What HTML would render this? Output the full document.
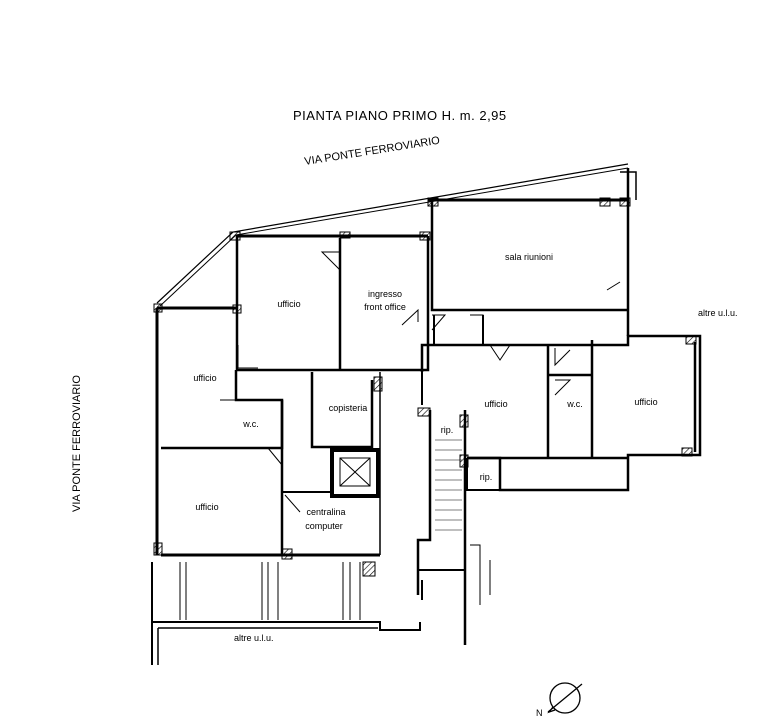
<!DOCTYPE html>
<html><head><meta charset="utf-8"><style>
html,body{margin:0;padding:0;background:#fff;}
svg{display:block;}
text{font-family:"Liberation Sans",sans-serif;fill:#000;}
</style></head><body>
<svg width="781" height="722" viewBox="0 0 781 722" xmlns="http://www.w3.org/2000/svg">
<defs>
<pattern id="h" width="4" height="4" patternUnits="userSpaceOnUse" patternTransform="rotate(45)"><line x1="0" y1="0" x2="0" y2="4" stroke="#000" stroke-width="1.2"/></pattern>
</defs>
<rect width="781" height="722" fill="#fff"/>
<text x="293" y="120" font-size="13" letter-spacing="0.5">PIANTA  PIANO  PRIMO  H. m. 2,95</text>
<text x="305" y="165" font-size="11" transform="rotate(-9 305 165)">VIA  PONTE  FERROVIARIO</text>
<text x="80" y="512" font-size="11" transform="rotate(-90 80 512)">VIA  PONTE  FERROVIARIO</text>
<text x="698" y="316" font-size="9">altre u.l.u.</text>
<text x="234" y="641" font-size="9">altre u.l.u.</text>

<g fill="none" stroke="#000">
<!-- outer diagonals -->
<path d="M157 303 L233 232 L628 164" stroke-width="1.2"/>
<path d="M160 306 L236 235 L628 168" stroke-width="1"/>
<path d="M628 168 L628 336" stroke-width="2.5"/>
<path d="M620 172 L636 172 L636 200" stroke-width="1.5"/>
<!-- sala riunioni -->
<path d="M428 200 L628 200" stroke-width="3"/>
<path d="M432 200 L432 310 L628 310" stroke-width="2.5"/>
<!-- top left rooms -->
<path d="M236 236 L428 236" stroke-width="3"/>
<path d="M237 236 L237 370 L428 370 L428 236" stroke-width="2.5"/>
<path d="M340 238 L340 370" stroke-width="2.5"/>
<!-- left ufficio -->
<path d="M157 308 L236 308" stroke-width="3"/>
<path d="M157 308 L157 555" stroke-width="3"/>
<path d="M161 448 L282 448 L282 400 L236 400 L236 370" stroke-width="2.5"/>
<path d="M282 400 L282 448 L282 555" stroke-width="2.5"/>
<!-- copisteria -->
<path d="M312 372 L312 447 L372 447 L372 380" stroke-width="2.5"/>
<path d="M380 372 L380 555" stroke-width="1.5"/>
<!-- lift -->
<rect x="332" y="450" width="46" height="46" stroke-width="4"/>
<rect x="340" y="458" width="30" height="28" stroke-width="1"/>
<path d="M340 458 L370 486 M370 458 L340 486" stroke-width="1"/>
<path d="M282 492 L332 492" stroke-width="2"/>
<path d="M161 555 L380 555" stroke-width="3"/>
<!-- bottom corridor -->
<path d="M152 562 L152 665 M152 622 L380 622 L380 630 L420 630 L420 622" stroke-width="2"/>
<path d="M158 628 L158 665 M158 628 L378 628" stroke-width="1.5"/>
<path d="M180 562 L180 620 M186 562 L186 620 M262 562 L262 620 M268 562 L268 620 M278 562 L278 620 M343 562 L343 620 M350 562 L350 620 M360 562 L360 620" stroke-width="1"/>
<!-- stairs -->
<path d="M430 410 L430 540 L418 540 L418 595 M465 410 L465 545 L465 645" stroke-width="2.5"/>
<path d="M418 570 L465 570 M422 580 L422 600" stroke-width="2"/>
<path d="M435 440 H462 M435 450 H462 M435 460 H462 M435 470 H462 M435 480 H462 M435 490 H462 M435 500 H462 M435 510 H462 M435 520 H462 M435 530 H462" stroke-width="0.6"/>
<path d="M470 545 L480 545 L480 605 M490 560 L490 595" stroke-width="1"/>
<!-- right block -->
<path d="M422 372 L422 345 L628 345 L628 336 L700 336 L700 455 L628 455 L628 490 L500 490 L500 458 L467 458" stroke-width="2.5"/>
<path d="M422 345 L432 345 M422 372 L422 405" stroke-width="2"/>
<path d="M434 315 L434 345 L483 345 L483 315" stroke-width="2"/>
<path d="M548 345 L548 458 M592 340 L592 458 M548 375 L592 375 M467 458 L628 458 M695 342 L695 452" stroke-width="2.5"/>
<path d="M500 458 L500 490 L467 490 L467 458" stroke-width="2"/>
<!-- door swings -->
<path d="M322 252 L340 252 L340 270 Z M238 345 L238 368 L258 368 M418 322 L418 310 L402 325 M607 290 L620 282 M432 315 L445 315 L432 330 M470 315 L483 315 L483 330 M220 400 L236 400 L236 385 M268 448 L282 465 M555 348 L555 365 L570 350 M555 380 L570 380 L555 395 M490 345 L500 360 L510 345 M285 495 L300 512" stroke-width="1"/>
</g>
<g fill="url(#h)" stroke="#000" stroke-width="1">
<rect x="230" y="232" width="10" height="8"/><rect x="340" y="232" width="10" height="6"/><rect x="420" y="232" width="10" height="8"/>
<rect x="154" y="304" width="8" height="8"/><rect x="233" y="305" width="8" height="8"/><rect x="374" y="377" width="8" height="14"/>
<rect x="428" y="198" width="10" height="8"/><rect x="600" y="198" width="10" height="8"/><rect x="620" y="198" width="10" height="8"/>
<rect x="686" y="336" width="10" height="8"/><rect x="682" y="448" width="10" height="8"/><rect x="418" y="408" width="12" height="8"/>
<rect x="154" y="543" width="8" height="12"/><rect x="282" y="549" width="10" height="10"/><rect x="363" y="562" width="12" height="14"/>
<rect x="460" y="415" width="8" height="12"/><rect x="460" y="455" width="8" height="12"/>
</g>
<g font-size="9" text-anchor="middle">
<text x="289" y="307">ufficio</text>
<text x="385" y="297">ingresso</text>
<text x="385" y="310">front office</text>
<text x="529" y="260">sala riunioni</text>
<text x="205" y="381">ufficio</text>
<text x="251" y="427">w.c.</text>
<text x="348" y="411">copisteria</text>
<text x="207" y="510">ufficio</text>
<text x="326" y="515">centralina</text>
<text x="324" y="529">computer</text>
<text x="496" y="407">ufficio</text>
<text x="575" y="407">w.c.</text>
<text x="646" y="405">ufficio</text>
<text x="447" y="433">rip.</text>
<text x="486" y="480">rip.</text>
</g>
<g fill="none" stroke="#000" stroke-width="1.3">
<circle cx="565" cy="698" r="15"/>
<path d="M548 712 L582 684 M553 707 L549 712 L555 710"/>
</g>
<text x="536" y="716" font-size="9">N</text>
</svg>
</body></html>
